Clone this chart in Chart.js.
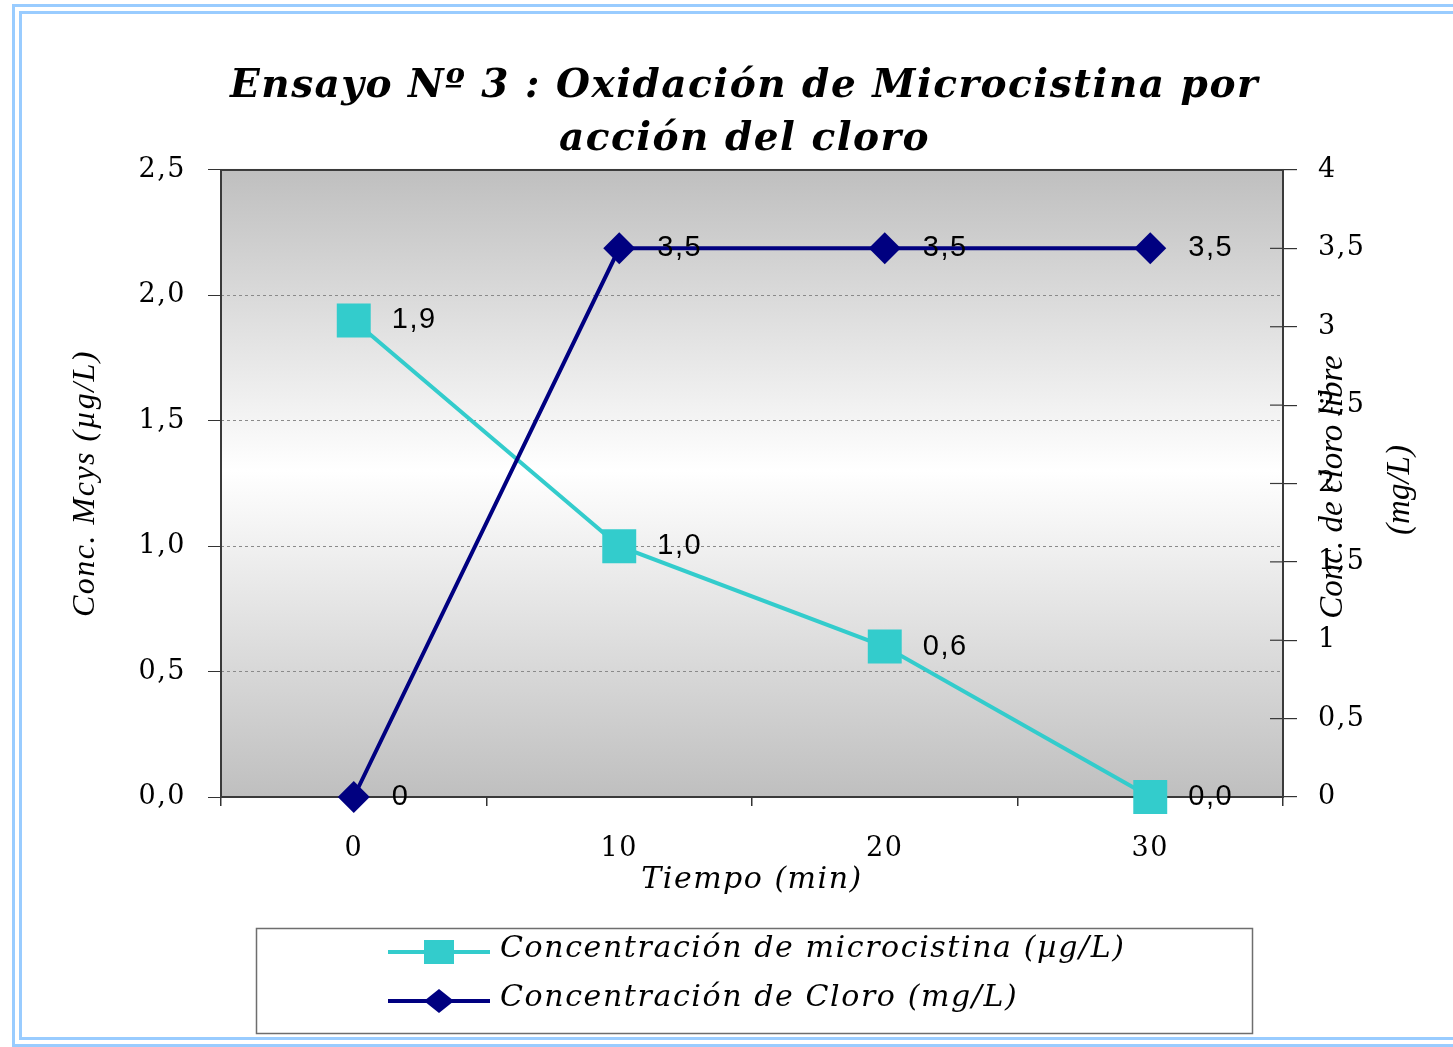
<!DOCTYPE html>
<html><head><meta charset="utf-8">
<script src="https://cdn.jsdelivr.net/npm/chart.js@4"></script>
<style>
html,body{margin:0;padding:0;background:#fff;overflow:hidden;width:1453px;height:1047px;}
#frame{position:absolute;left:12px;top:4px;width:1470px;height:1023px;border:10px double #99ccff;}
#wrap{position:absolute;left:0;top:0;width:1453px;height:1047px;}
</style></head><body>
<div id="frame"></div>
<div id="wrap"><canvas id="c" width="1453" height="1047"></canvas></div>
<script>
const categories = ['0', '10', '20', '30'];
const microcistina = [1.9, 1.0, 0.6, 0.0];
const cloro = [0, 3.5, 3.5, 3.5];
const microLabels = ['1,9', '1,0', '0,6', '0,0'];
const cloroLabels = ['0', '3,5', '3,5', '3,5'];
const leftTickLabels = ['0,0', '0,5', '1,0', '1,5', '2,0', '2,5'];
const rightTickLabels = ['0', '0,5', '1', '1,5', '2', '2,5', '3', '3,5', '4'];
const seriesNames = ['Concentración de microcistina (µg/L)', 'Concentración de Cloro (mg/L)'];
const titleLines = ['Ensayo Nº 3 : Oxidación de Microcistina por', 'acción del cloro'];
const leftTitle = 'Conc. Mcys (µg/L)';
const rightTitleLines = ['Conc. de cloro libre', '(mg/L)'];
const xTitle = 'Tiempo (min)';

const CYAN = '#33cccc', NAVY = '#000080';
const serif = 'DejaVu Serif';
const narrowSerif = 'Liberation Serif';

const decor = {
  id: 'decor',
  beforeDraw(chart) {
    const {ctx, chartArea: a} = chart;
    const g = ctx.createLinearGradient(0, a.top, 0, a.bottom);
    g.addColorStop(0, '#bfbfbf');
    g.addColorStop(0.48, '#ffffff');
    g.addColorStop(1, '#bfbfbf');
    ctx.save();
    ctx.fillStyle = g;
    ctx.fillRect(a.left, a.top, a.right - a.left, a.bottom - a.top);
    ctx.restore();
    // wide letter spacing of the original for titles and axis labels
    if ('letterSpacing' in ctx) ctx.letterSpacing = '1.5px';
  },
  beforeDatasetsDraw(chart) {
    const {ctx, chartArea: a} = chart;
    if ('letterSpacing' in ctx) ctx.letterSpacing = '0px';
    ctx.save();
    ctx.strokeStyle = '#3a3a3a';
    ctx.lineWidth = 2;
    ctx.strokeRect(a.left, a.top, a.right - a.left, a.bottom - a.top);
    // inner part of right-axis tick marks
    const y1 = chart.scales.y1;
    ctx.lineWidth = 1.2;
    y1.ticks.forEach(t => {
      const py = y1.getPixelForValue(t.value);
      ctx.beginPath(); ctx.moveTo(a.right - 13, py); ctx.lineTo(a.right, py); ctx.stroke();
    });
    ctx.restore();
  },
  afterDatasetsDraw(chart) {
    const {ctx} = chart;
    ctx.save();
    if ('letterSpacing' in ctx) ctx.letterSpacing = '1.5px';
    ctx.font = '29px "Liberation Sans"';
    ctx.fillStyle = '#000';
    ctx.textAlign = 'left';
    ctx.textBaseline = 'middle';
    const sets = [microLabels, cloroLabels];
    sets.forEach((labels, di) => {
      chart.getDatasetMeta(di).data.forEach((pt, i) => {
        ctx.fillText(labels[i], pt.x + 38, pt.y);
      });
    });
    ctx.restore();
  },
  afterDraw(chart) {
    const {ctx} = chart;
    ctx.save();
    if ('letterSpacing' in ctx) ctx.letterSpacing = '0px';
    // right axis title (reads bottom to top)
    ctx.fillStyle = '#000';
    ctx.font = 'italic 33px "' + narrowSerif + '"';
    ctx.textAlign = 'center';
    ctx.textBaseline = 'middle';
    [[1333, 487], [1400, 490]].forEach((p, i) => {
      ctx.save();
      ctx.translate(p[0], p[1]);
      ctx.rotate(-Math.PI / 2);
      ctx.fillText(rightTitleLines[i], 0, 0);
      ctx.restore();
    });
    // legend
    const lx = 256, ly = 928, lw = 996, lh = 105;
    ctx.fillStyle = '#fff';
    ctx.fillRect(lx, ly, lw, lh);
    ctx.strokeStyle = '#6e6e6e';
    ctx.lineWidth = 1.5;
    ctx.strokeRect(lx + 0.5, ly + 0.5, lw, lh);
    const rows = [952, 1001];
    const colors = [CYAN, NAVY];
    rows.forEach((ry, i) => {
      ctx.strokeStyle = colors[i];
      ctx.lineWidth = 4;
      ctx.beginPath(); ctx.moveTo(388, ry); ctx.lineTo(490, ry); ctx.stroke();
      ctx.fillStyle = colors[i];
      ctx.beginPath();
      if (i === 0) {
        ctx.rect(424, ry - 12, 30, 24);
      } else {
        ctx.moveTo(439 - 15, ry); ctx.lineTo(439, ry - 12); ctx.lineTo(439 + 15, ry); ctx.lineTo(439, ry + 12); ctx.closePath();
      }
      ctx.fill();
      ctx.fillStyle = '#000';
      if ('letterSpacing' in ctx) ctx.letterSpacing = '1.6px';
      ctx.font = 'italic 30px "' + serif + '"';
      ctx.textAlign = 'left';
      ctx.textBaseline = 'middle';
      ctx.fillText(seriesNames[i], 500, ry - 3);
      if ('letterSpacing' in ctx) ctx.letterSpacing = '0px';
    });
    ctx.restore();
  }
};

const tickFont = {family: serif, size: 27};

new Chart(document.getElementById('c'), {
  type: 'line',
  data: {
    labels: categories,
    datasets: [
      {label: seriesNames[0], data: microcistina, yAxisID: 'y', borderColor: CYAN, backgroundColor: CYAN,
       borderWidth: 4, pointStyle: 'rect', pointRadius: 24, pointBorderWidth: 0, pointHoverRadius: 24,
       order: 2, clip: false},
      {label: seriesNames[1], data: cloro, yAxisID: 'y1', borderColor: NAVY, backgroundColor: NAVY,
       borderWidth: 4, pointStyle: 'rectRot', pointRadius: 16, pointBorderWidth: 0, pointHoverRadius: 16,
       order: 1, clip: false}
    ]
  },
  options: {
    responsive: false,
    animation: false,
    events: [],
    layout: {padding: {left: 36, right: 0, top: 0, bottom: 149}},
    plugins: {
      legend: {display: false},
      tooltip: {enabled: false},
      title: {
        display: true, text: titleLines, color: '#000',
        font: {family: serif, weight: 'bold', style: 'italic', size: 39, lineHeight: 1.36},
        padding: {top: 60.5, bottom: 3.4}
      }
    },
    scales: {
      x: {
        type: 'category', offset: true,
        grid: {offset: true, drawOnChartArea: false, tickLength: 9, color: '#333', lineWidth: 1.5},
        border: {display: false},
        ticks: {font: tickFont, color: '#000', padding: 27, maxRotation: 0},
        title: {display: true, text: xTitle, color: '#000', font: {family: serif, style: 'italic', size: 30},
                padding: {top: 0, bottom: 0}},
        afterFit(s) { s.height = 101; }
      },
      y: {
        position: 'left', min: 0, max: 2.5,
        ticks: {stepSize: 0.5, font: tickFont, color: '#000', padding: 22,
                callback: (v, i) => leftTickLabels[i]},
        grid: {
          color: c => (c.tick && (c.tick.value === 0 || c.tick.value === 2.5)) ? 'rgba(0,0,0,0)' : '#8a8a8a',
          tickColor: '#333', tickLength: 13, lineWidth: 1
        },
        border: {display: false, dash: [3, 3]},
        title: {display: true, text: leftTitle, color: '#000', font: {family: narrowSerif, style: 'italic', size: 32},
                padding: {top: 30, bottom: 0}},
        afterFit(s) { s.width = 185; }
      },
      y1: {
        position: 'right', min: 0, max: 4,
        ticks: {stepSize: 0.5, font: tickFont, color: '#000', padding: 21,
                callback: (v, i) => rightTickLabels[i]},
        grid: {drawOnChartArea: false, tickLength: 14, color: '#333', lineWidth: 1.2},
        border: {display: false},
        afterFit(s) { s.width = 170; }
      }
    }
  },
  plugins: [decor]
});
</script>
</body></html>
